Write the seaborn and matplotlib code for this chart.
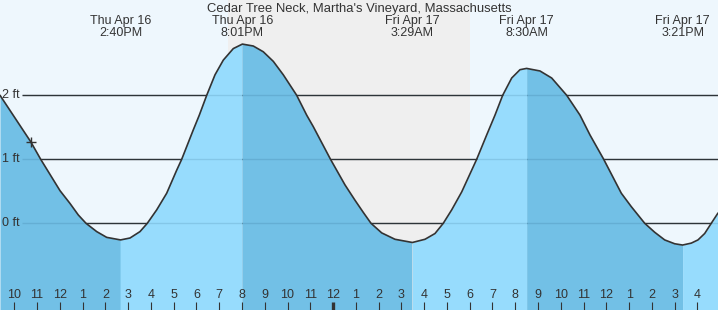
import matplotlib
matplotlib.use("Agg")
import matplotlib.pyplot as plt
import matplotlib.transforms as mtransforms
import seaborn as sns
import pandas as pd

sns.set_style("white")
plt.rcParams["font.family"] = ["Liberation Sans", "DejaVu Sans"]

# ---------------- data ----------------
title = "Cedar Tree Neck, Martha's Vineyard, Massachusetts"

# hours since Thu Apr 16 00:00, tide height in ft
tide_hour = [9.372, 10.720, 11.159, 12.007, 12.446, 12.811, 13.149, 13.619,
             14.058, 14.667, 15.081, 15.520, 15.841, 16.254, 16.693, 17.132,
             17.352, 17.861, 18.125, 18.450, 18.814, 19.179, 19.618, 20.017,
             20.496, 20.935, 21.375, 21.814, 22.402, 22.841, 23.131, 23.887,
             24.523, 24.963, 25.327, 25.665, 26.135, 26.719, 27.483, 28.037,
             28.476, 28.840, 29.210, 29.649, 30.088, 30.307, 30.746, 31.111,
             31.449, 31.845, 32.209, 32.500, 33.087, 33.601, 34.260, 34.844,
             35.283, 35.885, 36.658, 37.097, 37.686, 38.124, 38.564, 39.003,
             39.350, 39.732, 40.026, 40.320, 40.610, 40.905]
tide_ft = [2.00, 1.275, 1.00, 0.51, 0.31, 0.13, 0.00, -0.13,
           -0.22, -0.26, -0.23, -0.13, 0.00, 0.21, 0.47, 0.83,
           1.00, 1.46, 1.69, 2.00, 2.32, 2.55, 2.73, 2.80,
           2.77, 2.68, 2.53, 2.32, 2.00, 1.69, 1.51, 1.00,
           0.60, 0.36, 0.17, 0.00, -0.15, -0.25, -0.30, -0.25,
           -0.16, 0.00, 0.21, 0.49, 0.83, 1.00, 1.38, 1.69,
           2.00, 2.27, 2.40, 2.42, 2.38, 2.27, 2.00, 1.69,
           1.38, 1.00, 0.47, 0.26, 0.00, -0.14, -0.26, -0.32,
           -0.34, -0.31, -0.26, -0.16, 0.00, 0.16]

event_hour = [14.667, 20.017, 27.483, 32.500, 39.350]
event_day = ["Thu Apr 16", "Thu Apr 16", "Fri Apr 17", "Fri Apr 17", "Fri Apr 17"]
event_time = ["2:40PM", "8:01PM", "3:29AM", "8:30AM", "3:21PM"]

sunset_hour = 19.385
sunrise_hour = 30.026

now_hour = 10.720
now_ft = 1.275

level_ft = [0, 1, 2]
level_labels = ["0 ft", "1 ft", "2 ft"]

tick_hour = [10, 11, 12, 13, 14, 15, 16, 17, 18, 19, 20, 21, 22, 23, 24,
             25, 26, 27, 28, 29, 30, 31, 32, 33, 34, 35, 36, 37, 38, 39, 40]
tick_labels = ["10", "11", "12", "1", "2", "3", "4", "5", "6", "7", "8", "9",
               "10", "11", "12", "1", "2", "3", "4", "5", "6", "7", "8", "9",
               "10", "11", "12", "1", "2", "3", "4"]
midnight_hour = 24

# ---------------- style ----------------
x_min, x_max = 9.372, 40.905
y_min, y_max = -1.355, 3.489
day_bg = "#eef7fd"
night_bg = "#efefef"
rising_col = "#97dcfd"
falling_col = "#72c0e6"
ink = "#333333"
fs = 9

df = pd.DataFrame({"hour": tide_hour, "ft": tide_ft})

fig = plt.figure(figsize=(7.18, 3.10), dpi=100)
ax = fig.add_axes([0, 0, 1, 1])
ax.set_facecolor(day_bg)
ax.set_xlim(x_min, x_max)
ax.set_ylim(y_min, y_max)
for s in ax.spines.values():
    s.set_visible(False)

ax.axvspan(sunset_hour, sunrise_hour, color=night_bg, lw=0, zorder=0)

line_start = x_min + 22 / 22.77
ax.hlines(level_ft, line_start, x_max, color=ink, lw=1.0, zorder=1)

bounds = [tide_hour[0]] + event_hour + [tide_hour[-1]]
for a, b in zip(bounds[:-1], bounds[1:]):
    seg = df[(df.hour >= a - 1e-9) & (df.hour <= b + 1e-9)]
    falling = seg.ft.iloc[-1] < seg.ft.iloc[0]
    ax.fill_between(seg.hour, seg.ft, y_min - 1,
                    color=falling_col if falling else rising_col,
                    lw=0, zorder=2)

ax.hlines(level_ft, line_start, x_max, color="#0b3b5c", alpha=0.13, lw=1.0, zorder=3)

sns.lineplot(data=df, x="hour", y="ft", color=ink, lw=1.2, ax=ax,
             sort=False, zorder=4)
ax.plot([now_hour], [now_ft], marker="+", ms=7, mew=1.0, color=ink, zorder=5)

ax.set_xlabel("")
ax.set_ylabel("")

ax.set_xticks(tick_hour, tick_labels)
ax.tick_params(axis="x", direction="in", length=6, width=0.8, color=ink,
               labelsize=fs, labelcolor=ink, pad=-15, bottom=True)
for t, h in zip(ax.xaxis.get_major_ticks(), tick_hour):
    if h == midnight_hour:
        t.tick1line.set_markeredgewidth(2.4)

ax.set_yticks(level_ft, level_labels)
ax.tick_params(axis="y", length=0, labelsize=fs, labelcolor=ink, pad=-14.4, left=True)
for lbl in ax.get_yticklabels():
    lbl.set_verticalalignment("center")
ax.xaxis.set_zorder(10)
ax.yaxis.set_zorder(10)

trans = mtransforms.blended_transform_factory(ax.transData, ax.transAxes)
H = 310.0
for xh, d, tm in zip(event_hour, event_day, event_time):
    ax.text(xh, 1 - 24 / H, d, transform=trans, ha="center", va="baseline",
            fontsize=fs, color=ink, zorder=6)
    ax.text(xh, 1 - 36 / H, tm, transform=trans, ha="center", va="baseline",
            fontsize=fs, color=ink, zorder=6)

ax.text(0.5, 1 - 12 / H, title, transform=ax.transAxes, ha="center",
        va="baseline", fontsize=9.35, color=ink, zorder=6)

fig.savefig("out.png", dpi=100)
